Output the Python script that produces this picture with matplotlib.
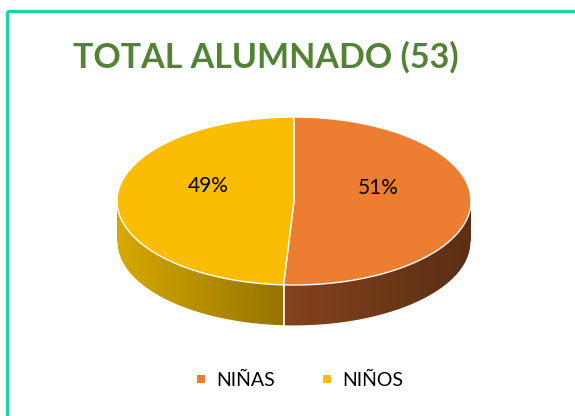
import numpy as np
import matplotlib.pyplot as plt
from matplotlib.patches import Polygon, Rectangle
from matplotlib.colors import to_rgb

# Data
categories = ['NIÑAS', 'NIÑOS']
counts = [27, 26]
top_colors = ['#ED7D31', '#FBBC04']
side_left = ['#84431C', '#D6A800']
side_right = ['#5A2F14', '#957400']
title = 'TOTAL ALUMNADO (53)'

W, H = 575, 416
fig = plt.figure(figsize=(W / 100, H / 100), dpi=100)
ax = fig.add_axes([0, 0, 1, 1])
ax.set_xlim(0, W)
ax.set_ylim(H, 0)
ax.axis('off')

# frame
ax.add_patch(Rectangle((6.5, 10.5), 600, 450, fill=False, ec='#1ED3A0', lw=2.4))

ax.text(266, 57, title, ha='center', va='center', fontsize=24.5, fontweight='bold',
        color='#548235', family='Lato')

# pie geometry (pixels)
cx, cy, a, b, depth = 294, 201, 177, 84, 41
total = sum(counts)
fr = np.cumsum([0] + counts) / total * 2 * np.pi


def pt(t, dy=0):
    return cx + a * np.sin(t), cy - b * np.cos(t) + dy


# side walls (front half only), gradient clipped to the wall shape
for i in range(len(counts)):
    t0, t1 = max(fr[i], np.pi / 2), min(fr[i + 1], 3 * np.pi / 2)
    if t1 <= t0:
        continue
    ts = np.linspace(t0, t1, 200)
    top = [pt(t) for t in ts]
    bot = [pt(t, depth) for t in ts[::-1]]
    wall = Polygon(top + bot, closed=True, fc='none', ec='none')
    ax.add_patch(wall)
    xs = [p[0] for p in top]
    ys = [p[1] for p in top + bot]
    xmin, xmax = min(xs), max(xs)
    c1, c2 = np.array(to_rgb(side_left[i])), np.array(to_rgb(side_right[i]))
    f = np.linspace(0, 1, 256)[None, :, None]
    grad = c1 + (c2 - c1) * f
    im = ax.imshow(grad, extent=[xmin, xmax, max(ys) + 1, min(ys) - 1],
                   aspect='auto', interpolation='bilinear', zorder=1)
    im.set_clip_path(wall)
    bx = [p[0] for p in bot]
    by = [p[1] for p in bot]
    ax.plot(bx, by, color='white', lw=0.8, zorder=2)

ax.set_xlim(0, W)
ax.set_ylim(H, 0)

# divider on the side wall
for t in fr[1:-1]:
    if np.pi / 2 < t < 3 * np.pi / 2:
        x0, y0 = pt(t)
        ax.plot([x0, x0], [y0, y0 + depth], color='white', lw=1.2, zorder=2)

# top face
for i in range(len(counts)):
    ts = np.linspace(fr[i], fr[i + 1], 200)
    verts = [(cx, cy)] + [pt(t) for t in ts]
    ax.add_patch(Polygon(verts, closed=True, fc=top_colors[i], ec='white', lw=1.0, zorder=3))

# labels
label_pos = [(378, 188), (208, 186)]
for i in range(len(counts)):
    pct = round(counts[i] / total * 100)
    ax.text(label_pos[i][0], label_pos[i][1], f'{pct}%', ha='center', va='center',
            fontsize=15, color='black', family='Lato', zorder=4)

# legend
leg_x = [201, 327]
for i, name in enumerate(categories):
    ax.add_patch(Rectangle((leg_x[i] - 4, 375), 8, 8, fc=top_colors[i], ec='none'))
    ax.text(leg_x[i] + 15, 380, name, ha='left', va='center', fontsize=14,
            color='black', family='Lato')

fig.savefig('out.png', dpi=100)
